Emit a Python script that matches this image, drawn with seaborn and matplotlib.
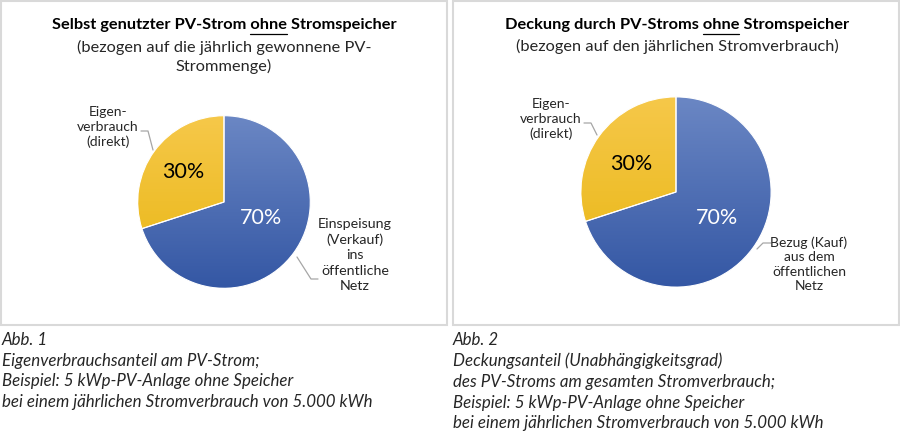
import numpy as np
import matplotlib
matplotlib.use("Agg")
import matplotlib.pyplot as plt
import seaborn as sns

# values of the two pies (share in percent)
shares_left = [70, 30]
shares_right = [70, 30]
pct_labels = ["70%", "30%"]

titles = ["Selbst genutzter PV-Strom ohne Stromspeicher",
          "Deckung durch PV-Stroms ohne Stromspeicher"]
subtitles = ["(bezogen auf die jährlich gewonnene PV-\nStrommenge)",
             "(bezogen auf den jährlichen Stromverbrauch)"]
labels_left = ["Einspeisung\n(Verkauf)\nins\nöffentliche\nNetz", "Eigen-\nverbrauch\n(direkt)"]
labels_right = ["Bezug (Kauf)\naus dem\nöffentlichen\nNetz", "Eigen-\nverbrauch\n(direkt)"]
captions = ["Abb. 1\nEigenverbrauchsanteil am PV-Strom;\nBeispiel: 5 kWp-PV-Anlage ohne Speicher\n"
            "bei einem jährlichen Stromverbrauch von 5.000 kWh",
            "Abb. 2\nDeckungsanteil (Unabhängigkeitsgrad)\ndes PV-Stroms am gesamten Stromverbrauch;\n"
            "Beispiel: 5 kWp-PV-Anlage ohne Speicher\nbei einem jährlichen Stromverbrauch von 5.000 kWh"]

sns.set_theme(style="white")
plt.rcParams["font.family"] = ["Lato", "DejaVu Sans"]

W, H = 900, 433
fig = plt.figure(figsize=(W / 100, H / 100), dpi=100)

# overlay axes in pixel coordinates for frames, texts and leader lines
over = fig.add_axes([0, 0, 1, 1])
over.set_xlim(0, W)
over.set_ylim(H, 0)
over.axis("off")
over.set_zorder(0)

for x0 in [1, 453]:
    over.add_patch(plt.Rectangle((x0, 1), 446, 324, fill=False,
                                 edgecolor="#d9d9d9", linewidth=1.5))

blue_grad = ["#6b87c4", "#3457a4"]
yellow_grad = ["#f6c84a", "#e8b612"]


def draw_pie(cx, cy, r, shares):
    ax = fig.add_axes([(cx - r) / W, (H - cy - r) / H, 2 * r / W, 2 * r / H])
    wedges, _ = ax.pie(shares, colors=["#4a6cb5", "#f1bf23"], startangle=90,
                       counterclock=False, radius=1,
                       wedgeprops=dict(linewidth=0.8, edgecolor="white"))
    grad = np.linspace(0, 1, 256).reshape(-1, 1)
    for w, (c1, c2) in zip(wedges, [blue_grad, yellow_grad]):
        cmap = matplotlib.colors.LinearSegmentedColormap.from_list("g", [c1, c2])
        im = ax.imshow(grad, cmap=cmap, extent=(-1, 1, -1, 1), aspect="auto",
                       origin="upper", zorder=1)
        im.set_clip_path(w)
        w.set_zorder(2)
        w.set_facecolor("none")
    ax.set_xlim(-1.02, 1.02)
    ax.set_ylim(-1.02, 1.02)
    ax.axis("off")
    ax.set_zorder(1)
    return ax


def polar(ax, dist, ang, text, color):
    a = np.deg2rad(ang)
    ax.text(dist * np.cos(a), dist * np.sin(a), text, ha="center", va="center",
            fontsize=15.5, color=color, zorder=5)


def title(cx, y, text, word="ohne", size=11.8):
    renderer = fig.canvas.get_renderer()
    t = over.text(cx, y, text, ha="center", va="center", fontsize=size,
                  fontweight="bold", color="black")
    full = t.get_window_extent(renderer)
    pre = text[:text.index(word) + len(word)]
    tmp = over.text(0, 0, pre, fontsize=size, fontweight="bold")
    w_pre = tmp.get_window_extent(renderer).width
    tmp.set_text(word)
    w_word = tmp.get_window_extent(renderer).width
    tmp.remove()
    x_end = full.x0 + w_pre
    over.plot([x_end - w_word, x_end], [y + 8.5, y + 8.5], color="black", lw=0.9)


# left chart
axl = draw_pie(224, 202, 88, shares_left)
polar(axl, 0.47, -23, pct_labels[0], "white")
polar(axl, 0.59, 144, pct_labels[1], "black")
title(224, 25, titles[0])
over.text(224, 57, subtitles[0], ha="center", va="center", fontsize=11.8,
          linespacing=1.3)
over.text(108, 127, labels_left[1], ha="center", va="center", fontsize=10,
          linespacing=1.25)
over.plot([141, 148, 153], [131, 131, 150], color="#a6a6a6", lw=0.9)
over.text(355, 255, labels_left[0], ha="center", va="center", fontsize=10.3,
          linespacing=1.35)
over.plot([297, 311, 318], [257, 279, 279], color="#a6a6a6", lw=0.9)

# right chart
axr = draw_pie(676, 192, 97, shares_right)
polar(axr, 0.51, -32, pct_labels[0], "white")
polar(axr, 0.56, 148, pct_labels[1], "black")
title(677, 25, titles[1])
over.text(677, 46, subtitles[1], ha="center", va="center", fontsize=11.8)
over.text(551, 119, labels_right[1], ha="center", va="center", fontsize=10,
          linespacing=1.25)
over.plot([584, 591, 597], [123, 123, 135], color="#a6a6a6", lw=0.9)
over.text(809, 264, labels_right[0], ha="center", va="center", fontsize=10,
          linespacing=1.25)
over.plot([757, 763, 771], [249, 243, 243], color="#a6a6a6", lw=0.9)

# captions
over.text(2, 332, captions[0], ha="left", va="top", fontsize=12.2,
          fontstyle="italic", linespacing=1.36)
over.text(453, 332, captions[1], ha="left", va="top", fontsize=12.2,
          fontstyle="italic", linespacing=1.36)

fig.savefig("out.png", dpi=100, facecolor="white")
